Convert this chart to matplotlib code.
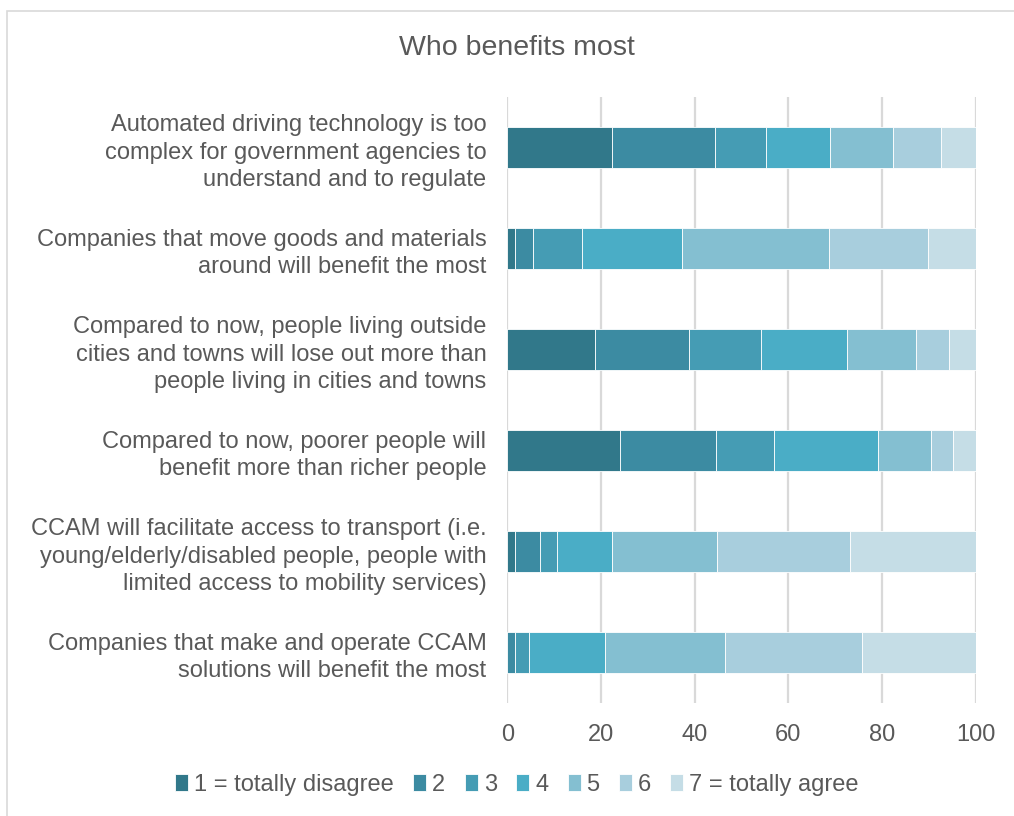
import matplotlib
matplotlib.use('Agg')
import matplotlib.pyplot as plt
from matplotlib import patches
import numpy as np

plt.rcParams['font.family'] = ['Liberation Sans', 'DejaVu Sans']

statements = [
    "Automated driving technology is too\ncomplex for government agencies to\nunderstand and to regulate",
    "Companies that move goods and materials\naround will benefit the most",
    "Compared to now, people living outside\ncities and towns will lose out more than\npeople living in cities and towns",
    "Compared to now, poorer people will\nbenefit more than richer people",
    "CCAM will facilitate access to transport (i.e.\nyoung/elderly/disabled people, people with\nlimited access to mobility services)",
    "Companies that make and operate CCAM\nsolutions will benefit the most",
]
levels = ["1 = totally disagree", "2", "3", "4", "5", "6", "7 = totally agree"]

# share of answers per level (%), one list per level, statements in the order above
lvl1 = [22.4, 1.7, 18.8, 24.1, 1.7, 0.0]
lvl2 = [22.0, 3.8, 20.1, 20.5, 5.3, 1.7]
lvl3 = [10.9, 10.5, 15.2, 12.4, 3.7, 2.9]
lvl4 = [13.7, 21.4, 18.5, 22.2, 11.7, 16.3]
lvl5 = [13.3, 31.2, 14.7, 11.3, 22.4, 25.6]
lvl6 = [10.4, 21.3, 6.9, 4.7, 28.4, 29.3]
lvl7 = [7.3, 10.1, 5.8, 4.8, 26.8, 24.2]

colors = ['#31788A', '#3C8BA2', '#459CB4', '#4AADC6', '#84BFD1', '#A8CEDD', '#C5DDE6']
txt = '#595959'

fig = plt.figure(figsize=(10.14, 8.16), dpi=100)
ax = fig.add_axes([0.5003, 0.1385, 0.4619, 0.7426])

# chart area frame
fig.patches.append(patches.Rectangle((7 / 1014, -0.01), 1.05, 1 - 11 / 816 + 0.01,
                                     transform=fig.transFigure, fill=False,
                                     edgecolor='#D9D9D9', linewidth=1.2))

y = np.arange(len(statements))
left = np.zeros(len(statements))
for vals, name, c in zip([lvl1, lvl2, lvl3, lvl4, lvl5, lvl6, lvl7], levels, colors):
    vals = np.array(vals)
    ax.barh(y, vals, left=left, height=0.41, color=c, edgecolor='white',
            linewidth=0.6, label=name, zorder=3)
    left += vals

ax.set_ylim(len(statements) - 0.5, -0.5)
ax.set_xlim(0, 100)
ax.set_xticks([0, 20, 40, 60, 80, 100])
ax.set_yticks(y)
ax.set_yticklabels(statements, linespacing=1.3)
ax.tick_params(axis='x', length=0, pad=15, labelsize=17, labelcolor=txt)
ax.tick_params(axis='y', length=0, pad=15, labelsize=17, labelcolor=txt)
ax.grid(axis='x', color='#D9D9D9', linewidth=1.6, zorder=0)
for s in ax.spines.values():
    s.set_visible(False)

fig.text(0.51, 1 - 48 / 816, "Who benefits most", ha='center', va='center',
         fontsize=20.5, color=txt)

fig.legend(loc='center', bbox_to_anchor=(0.51, 1 - 785 / 816), ncol=7,
           frameon=False, fontsize=17, labelcolor=txt, handlelength=0.55,
           handleheight=0.7, handletextpad=0.25, columnspacing=0.82)

fig.savefig('out.png', dpi=100)
